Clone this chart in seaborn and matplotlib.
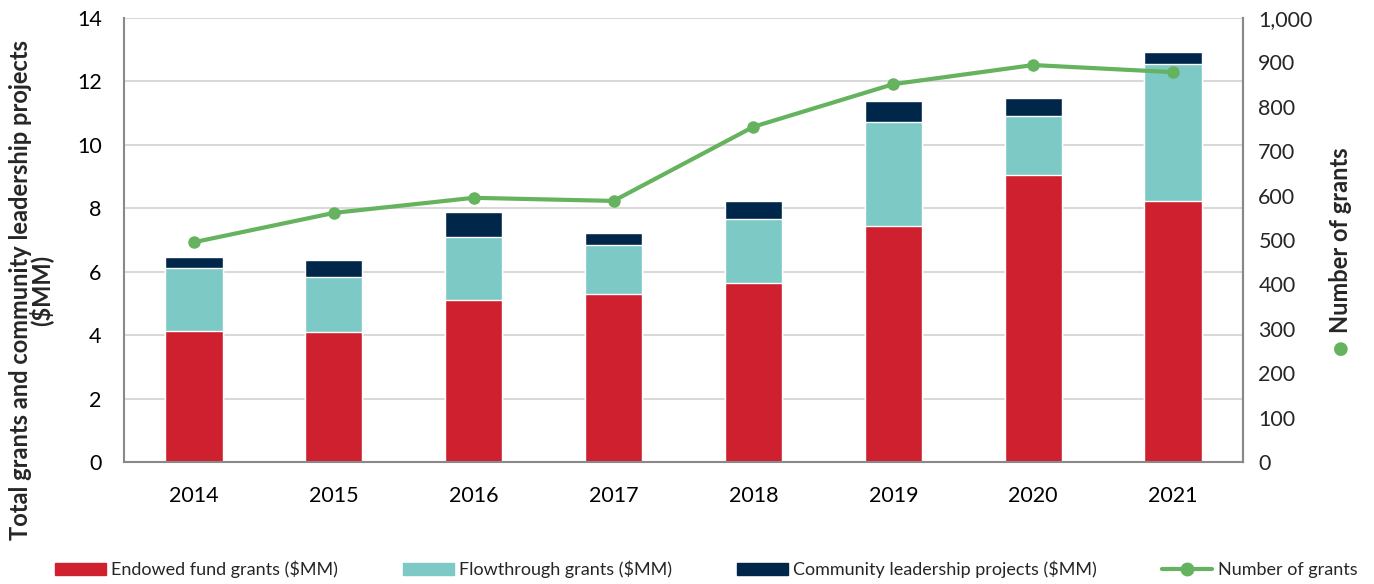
import numpy as np
import pandas as pd
import seaborn as sns
import matplotlib.pyplot as plt
from matplotlib.patches import Patch
from matplotlib.lines import Line2D
from matplotlib.ticker import FuncFormatter

# valores
anos = ['2014', '2015', '2016', '2017', '2018', '2019', '2020', '2021']
endowed = [4.13, 4.10, 5.11, 5.30, 5.64, 7.44, 9.05, 8.23]
flowthrough = [1.99, 1.73, 1.99, 1.54, 2.02, 3.28, 1.86, 4.32]
community = [0.34, 0.54, 0.78, 0.38, 0.57, 0.66, 0.57, 0.38]
n_grants = [495, 561, 595, 588, 755, 851, 894, 878]

cor_red = '#CE202F'
cor_teal = '#7CC9C5'
cor_navy = '#00264A'
cor_green = '#65B35E'

df = pd.DataFrame({'ano': anos, 'endowed': endowed,
                   'flow': flowthrough, 'comm': community, 'n': n_grants})
df['t1'] = df['endowed']
df['t2'] = df['endowed'] + df['flow']
df['t3'] = df['t2'] + df['comm']

sns.set_style('white')
plt.rcParams['font.family'] = ['Lato', 'DejaVu Sans']

fig = plt.figure(figsize=(13.74, 5.84), dpi=100)
ax = fig.add_axes([0.0902, 0.2089, 0.8145, 0.7603])

# barras empilhadas (totais acumulados, do maior para o menor)
sns.barplot(data=df, x='ano', y='t3', color=cor_navy, width=0.41, ax=ax, saturation=1)
sns.barplot(data=df, x='ano', y='t2', color=cor_teal, width=0.41, ax=ax, saturation=1)
sns.barplot(data=df, x='ano', y='t1', color=cor_red, width=0.41, ax=ax, saturation=1)

ax.set_ylim(0, 14)
ax.set_yticks(range(0, 15, 2))
ax.set_xlim(-0.5, 7.5)
ax.yaxis.grid(True, color='#d9d9d9', linewidth=1.5)
ax.set_axisbelow(True)
ax.spines['top'].set_visible(False)
for s in ['left', 'bottom', 'right']:
    ax.spines[s].set_color('#898989')
    ax.spines[s].set_linewidth(1.5)
ax.tick_params(axis='both', length=0, labelsize=15.5, colors='#000000')
ax.tick_params(axis='y', pad=16)
ax.tick_params(axis='x', pad=17)
ax.set_xlabel('')
ax.set_ylabel('Total grants and community leadership projects\n($MM)',
              fontsize=17, fontweight='bold', linespacing=0.85, va='center')
ax.yaxis.set_label_coords(-0.083, 0.387)

# linha do numero de grants
ax2 = ax.twinx()
sns.lineplot(x=np.arange(len(anos)), y=n_grants, ax=ax2, color=cor_green,
             linewidth=3, marker='o', markersize=9, markeredgewidth=0)
ax2.set_ylim(0, 1000)
ax2.set_yticks(range(0, 1001, 100))
ax2.yaxis.set_major_formatter(FuncFormatter(lambda v, p: f'{int(v):,}'))
ax2.tick_params(axis='y', length=0, labelsize=15.5, pad=11)
for s in ['top', 'left', 'bottom']:
    ax2.spines[s].set_visible(False)
ax2.spines['right'].set_color('#898989')
ax2.spines['right'].set_linewidth(1.5)
ax2.set_ylabel('')
ax2.text(1.087, 0.5, 'Number of grants', transform=ax2.transAxes, rotation=90,
         ha='center', va='center', fontsize=17, fontweight='bold')
ax2.text(1.087, 0.255, '\u25CF', transform=ax2.transAxes, ha='center', va='center',
         fontsize=13, color=cor_green, family='DejaVu Sans')

handles = [Patch(color=cor_red), Patch(color=cor_teal), Patch(color=cor_navy),
           Line2D([0], [0], color=cor_green, linewidth=3, marker='o', markersize=9)]
labels = ['Endowed fund grants ($MM)', 'Flowthrough grants ($MM)',
          'Community leadership projects ($MM)', 'Number of grants']
fig.legend(handles, labels, loc='center', bbox_to_anchor=(0.514, 0.025), ncol=4,
           frameon=False, fontsize=13, handlelength=2.8, handleheight=0.6,
           columnspacing=3.6, handletextpad=0.3)

plt.savefig('out.png', dpi=100)
